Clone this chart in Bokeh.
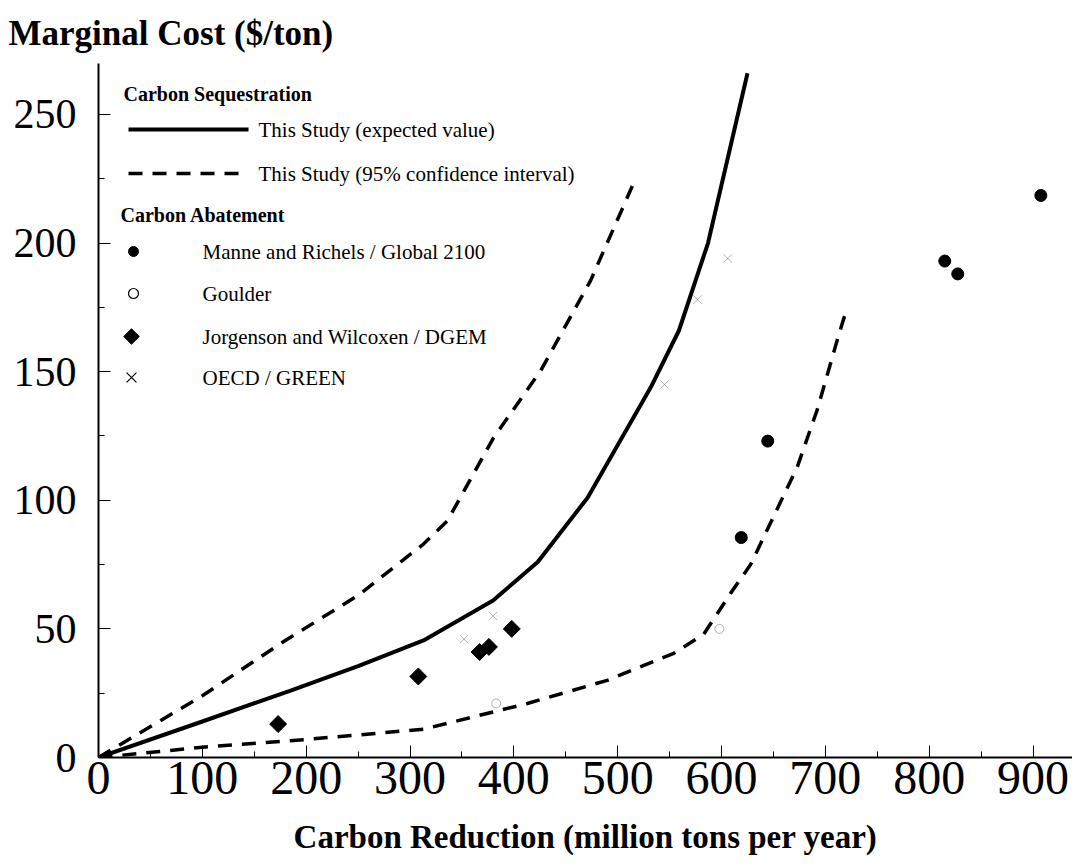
from bokeh.plotting import figure
from bokeh.models import Range1d, SingleIntervalTicker
from bokeh.core.properties import value
from bokeh.embed import file_html
from bokeh.resources import INLINE

# ---- data ----
expected_x = [0, 100, 185, 250, 313, 380, 423, 471, 532, 559, 587, 625]
expected_y = [0, 14, 26, 35.5, 45.5, 61, 76, 101, 144, 166, 200, 266]

upper_x = [0, 100, 178, 250, 313, 336, 380, 426, 474, 515]
upper_y = [0, 24, 45, 63, 83, 92, 124, 150.5, 185.5, 223]

lower_x = [0, 100, 200, 313, 413, 490, 554, 583, 609, 628, 673, 692, 712, 721]
lower_y = [0, 4, 7, 11, 21, 30, 40.5, 48, 64, 75, 113, 135, 163, 175]

manne_x = [619, 644.5, 815, 827.5, 907.5]
manne_y = [85.5, 123, 193, 188, 218.5]

goulder_x = [383, 598]
goulder_y = [21, 50]

jorgenson_x = [173, 308, 367, 376, 398]
jorgenson_y = [13, 31.5, 41, 43, 50]

oecd_x = [352, 380, 545, 577, 606]
oecd_y = [46, 55, 145, 178, 194]

x_ticks_interval = 100
y_ticks_interval = 50

series_labels = ["This Study (expected value)", "This Study (95% confidence interval)",
                 "Manne and Richels / Global 2100", "Goulder",
                 "Jorgenson and Wilcoxen / DGEM", "OECD / GREEN"]
group_titles = ["Carbon Sequestration", "Carbon Abatement"]

FONT = "Liberation Serif"

# ---- layout ----
FL, FT, FW, FH = 98, 63, 974, 694   # frame left/top/width/height (px)
XMAX, YMAX = 938, 269.8

p = figure(frame_width=FW, frame_height=FH,
           x_range=Range1d(0, XMAX), y_range=Range1d(0, YMAX),
           output_backend="svg", toolbar_location=None,
           min_border_left=FL, min_border_right=0, min_border_top=FT, min_border_bottom=20)
p.outline_line_color = None
p.xgrid.visible = False
p.ygrid.visible = False
p.background_fill_color = "white"
p.border_fill_color = "white"

p.title.text = "Marginal Cost ($/ton)"
p.title.align = "left"
p.title.offset = -FL + 8
p.title.text_font = FONT
p.title.text_font_size = "35px"
p.title.text_font_style = "bold"
p.title.text_color = "black"
p.title.standoff = 21

p.xaxis.ticker = SingleIntervalTicker(interval=x_ticks_interval, num_minor_ticks=2)
p.yaxis.ticker = SingleIntervalTicker(interval=y_ticks_interval, num_minor_ticks=2)
for ax in (p.xaxis[0], p.yaxis[0]):
    ax.axis_line_color = "black"
    ax.axis_line_width = 2
    ax.major_tick_in = 12
    ax.major_tick_out = 0
    ax.minor_tick_in = 6
    ax.minor_tick_out = 0
    ax.major_tick_line_color = "black"
    ax.minor_tick_line_color = "black"
    ax.major_label_text_font = FONT
    ax.major_label_text_color = "black"
p.xaxis.major_label_text_font_size = "48px"
p.yaxis.major_label_text_font_size = "42px"
p.yaxis.major_label_standoff = 22
p.xaxis.major_label_standoff = 4
p.xaxis.axis_label = "Carbon Reduction (million tons per year)"
p.xaxis.axis_label_text_font = FONT
p.xaxis.axis_label_text_font_size = "33px"
p.xaxis.axis_label_text_font_style = "bold"
p.xaxis.axis_label_text_color = "black"
p.xaxis.axis_label_standoff = 22

# ---- curves ----
p.line(expected_x, expected_y, line_color="black", line_width=4)
p.line(upper_x, upper_y, line_color="black", line_width=3.5, line_dash="14 10")
p.line(lower_x, lower_y, line_color="black", line_width=3.5, line_dash="14 10")

# ---- points ----
p.scatter(manne_x, manne_y, marker="circle", size=12, color="black")
p.scatter(jorgenson_x, jorgenson_y, marker="square", angle=0.785, size=12, color="black")
# these are barely visible in the (scanned) reference
p.scatter(goulder_x, goulder_y, marker="circle", size=9, fill_color=None,
          line_color="black", line_width=1, line_alpha=0.3)
p.scatter(oecd_x, oecd_y, marker="x", size=12, line_color="black", line_width=1, line_alpha=0.3)


# ---- legend (keys placed in screen pixels, converted to data space) ----
def dx(px):
    return (px - FL) / FW * XMAX


def dy(py):
    return (FT + FH - py) / FH * YMAX


KEY_X0, KEY_X1, LINE_LABEL_X = 128, 248, 258
MARK_X, MARK_LABEL_X = 133, 202
title_px = [(123, 93), (120, 214)]
line_rows = [129, 173]
mark_rows = [251, 293, 336, 377]

p.text(x=[dx(x) for x, _ in title_px], y=[dy(y) for _, y in title_px], text=group_titles,
       text_font=value(FONT), text_font_size="20px", text_font_style="bold",
       text_baseline="middle", text_color="black")
p.line([dx(KEY_X0), dx(KEY_X1)], [dy(line_rows[0])] * 2, line_color="black", line_width=4)
p.line([dx(KEY_X0), dx(KEY_X1)], [dy(line_rows[1])] * 2, line_color="black", line_width=3.5,
       line_dash="14 10")
p.text(x=[dx(LINE_LABEL_X)] * 2, y=[dy(r) for r in line_rows], text=series_labels[:2],
       text_font=value(FONT), text_font_size="21px", text_baseline="middle", text_color="black")

mx = dx(MARK_X)
p.scatter([mx], [dy(mark_rows[0])], marker="circle", size=10, color="black")
p.scatter([mx], [dy(mark_rows[1])], marker="circle", size=10, fill_color=None,
          line_color="black", line_width=1.2)
p.scatter([dx(MARK_X - 2)], [dy(mark_rows[2])], marker="square", angle=0.785, size=11, color="black")
p.scatter([dx(MARK_X - 2)], [dy(mark_rows[3])], marker="x", size=14, line_color="black", line_width=1.2)
p.text(x=[dx(MARK_LABEL_X)] * 4, y=[dy(r) for r in mark_rows], text=series_labels[2:],
       text_font=value(FONT), text_font_size="21px", text_baseline="middle", text_color="black")

open("out.html", "w").write(file_html(p, INLINE))
